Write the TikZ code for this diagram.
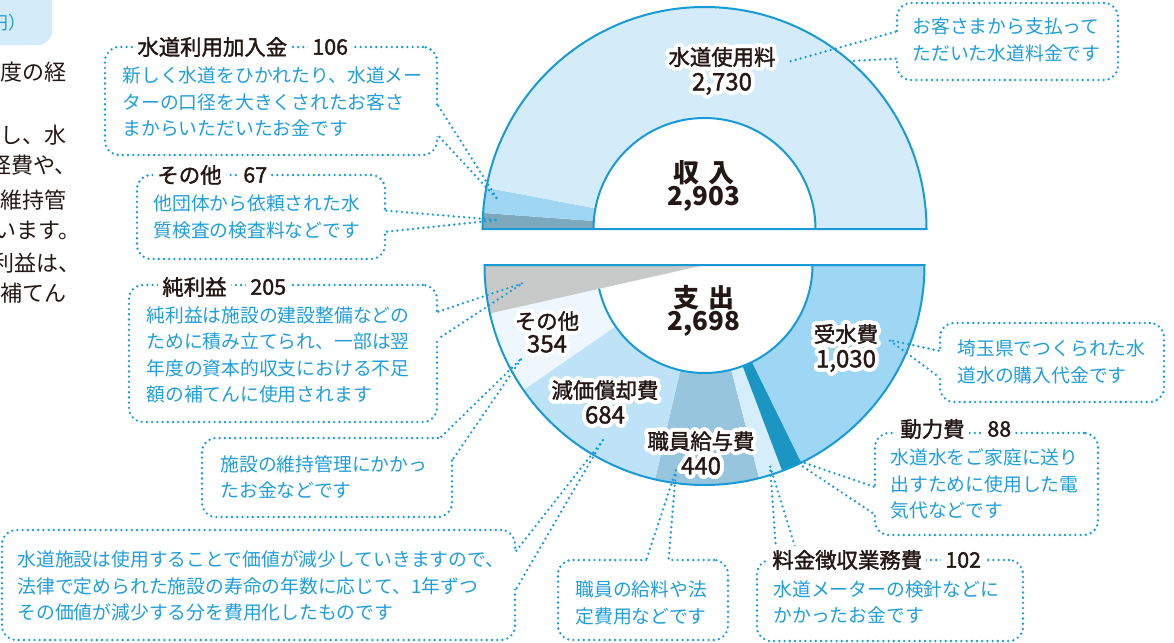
\documentclass[tikz,border=0pt]{standalone}
\usepackage{fontspec}
\setmainfont{Noto Sans CJK JP}
\newfontfamily\jpmed{Noto Sans CJK JP}[FakeBold=1.6]
\usepackage[copies]{contour}
\usepackage{tikz}
\usetikzlibrary{calc,fit}
\definecolor{lineblue}{RGB}{24,154,214}
\definecolor{textblue}{RGB}{32,158,218}
\definecolor{inkcol}{RGB}{35,24,21}
\definecolor{feecol}{RGB}{212,236,249}
\definecolor{joincol}{RGB}{158,214,243}
\definecolor{incother}{RGB}{125,169,191}
\definecolor{profitcol}{RGB}{200,201,201}
\definecolor{expother}{RGB}{238,247,253}
\definecolor{deprcol}{RGB}{190,227,246}
\definecolor{staffcol}{RGB}{151,197,221}
\definecolor{billcol}{RGB}{214,238,251}
\definecolor{powercol}{RGB}{27,150,194}
\definecolor{buycol}{RGB}{158,214,243}
\contourlength{2pt}
\contournumber{24}
\newcommand{\hl}[1]{\contour{white}{#1}}
\newcommand{\num}[1]{\contour{white}{\fontsize{12}{11.6}\selectfont #1}}
\tikzstyle{dotline} = [draw=lineblue, line width=1.3pt, line cap=round, dash pattern=on 0pt off 2.6pt]
\tikzstyle{cbox} = [dotline, rounded corners=7pt, inner sep=0pt]
\tikzstyle{erase} = [draw=white, line width=3pt]
\tikzstyle{ctext} = [anchor=west, align=left, inner sep=0pt, text=textblue, font=\fontsize{9.4}{13.2}\selectfont]
\tikzstyle{chead} = [anchor=west, fill=white, inner sep=2pt, text=inkcol, font=\jpmed\fontsize{10.7}{12}\selectfont]
\tikzstyle{plabel} = [align=center, inner sep=0pt, text=inkcol, font=\jpmed\fontsize{10.7}{11.6}\selectfont]
\tikzstyle{ptotal} = [align=center, inner sep=0pt, text=inkcol, font=\bfseries\fontsize{13}{11.8}\selectfont]
\tikzstyle{pieline} = [draw=lineblue, line width=1pt]
\tikzstyle{frag} = [anchor=east, inner sep=0pt, text=inkcol, font=\fontsize{11}{12}\selectfont]

\begin{document}
\begin{tikzpicture}[x=0.5pt, y=-0.5pt]
  \useasboundingbox (0,0) rectangle (1174,643);
  \clip (0,0) rectangle (1174,643);

  % page fragments at the left edge
  \fill[feecol, rounded corners=7pt] (-30,-30) rectangle (52,45);
  \node[frag, text=textblue, font=\fontsize{9}{10}\selectfont] (unit) at (27,23) {円）};
  \node[frag] (p1) at (67,72) {度の経};
  \node[frag] (p2) at (67,135) {し、水};
  \node[frag] (p3) at (77,165) {経費や、};
  \node[frag] (p4) at (67,200) {維持管};
  \node[frag] (p5) at (81,230) {います。};
  \node[frag] (p6) at (81,263) {利益は、};
  \node[frag] (p7) at (67,293) {補てん};

  % income half
  \coordinate (inc) at (704.5,229);
  \foreach \a/\b/\col in {180/184.154/incother, 184.154/190.727/joincol, 190.727/360/feecol}
    \fill[\col] (inc) -- +(\a:222) arc[start angle=\a, end angle=\b, radius=222] -- cycle;
  \fill[white] (inc) -- +(180:111) arc[start angle=180, end angle=360, radius=111] -- cycle;
  \draw[pieline] (inc) ++(180:222) arc[start angle=180, end angle=360, radius=222] -- cycle;
  \draw[pieline] (inc) ++(180:111) arc[start angle=180, end angle=360, radius=111];

  % expense half
  \coordinate (exp) at (704.5,265);
  \foreach \a/\b/\col in {145.339/167.289/expother, 102.928/145.339/deprcol, 75.646/102.928/staffcol,
                          69.322/75.646/billcol, 63.866/69.322/powercol, 0/63.866/buycol}
    \fill[\col] (exp) -- +(\a:220) arc[start angle=\a, end angle=\b, radius=220] -- cycle;
  \fill[white] (exp) -- +(0:108) arc[start angle=0, end angle=180, radius=108] -- cycle;
  \fill[profitcol] (exp) -- +(167.289:220) arc[start angle=167.289, end angle=180, radius=220] -- cycle;
  \draw[pieline] (exp) ++(0:220) arc[start angle=0, end angle=180, radius=220] -- cycle;
  \draw[pieline] (exp) ++(0:108) arc[start angle=0, end angle=167.3, radius=108];

  % callout: water charges
  \node[cbox, fit={(897,3) (1118,80)}] (feebox) {};
  \coordinate (feeA) at ($(feebox.north west)+(0,30)$);
  \coordinate (feeB) at ($(feebox.north west)+(0,57)$);
  \coordinate (feetip) at (788,62);
  \coordinate (feeend) at (850,61);
  \draw[erase] (feeA) -- (feeB);
  \draw[dotline] (feeA) -- (feetip);
  \draw[dotline] (feeB) -- (feeend);
  \node[ctext] (feetext) at (912,40) {お客さまから支払って\\ただいた水道料金です};

  % callout: connection fee
  \node[cbox, fit={(105,47) (437,155)}] (joinbox) {};
  \coordinate (joinA) at ($(joinbox.north east)+(0,60)$);
  \coordinate (joinB) at ($(joinbox.north east)+(0,90)$);
  \coordinate (jointip) at (498,200);
  \draw[erase] (joinA) -- (joinB);
  \draw[dotline] (joinA) -- (jointip) -- (joinB);
  \node[chead] (joinname) at (133,47) {水道利用加入金};
  \node[chead] (joinval) at (308,47) {106};
  \node[ctext] (jointext) at (122,102) {新しく水道をひかれたり、水道メー\\ターの口径を大きくされたお客さ\\まからいただいたお金です};

  % callout: other income
  \node[cbox, fit={(137,175) (385,259)}] (incobox) {};
  \coordinate (incoA) at ($(incobox.north east)+(0,37)$);
  \coordinate (incoB) at ($(incobox.north east)+(0,58)$);
  \coordinate (incotip) at (498,220);
  \draw[erase] (incoA) -- (incoB);
  \draw[dotline] (incoA) -- (incotip) -- (incoB);
  \node[chead] (inconame) at (153,175) {その他};
  \node[chead] (incoval) at (239,175) {67};
  \node[ctext] (incotext) at (153,217) {他団体から依頼された水\\質検査の検査料などです};

  % callout: net profit
  \node[cbox, fit={(129,285) (437,422)}] (profbox) {};
  \coordinate (profA) at ($(profbox.north east)+(0,28)$);
  \coordinate (profB) at ($(profbox.north east)+(0,55)$);
  \coordinate (proftip) at (523,283);
  \draw[erase] (profA) -- (profB);
  \draw[dotline] (profA) -- (proftip) -- (profB);
  \node[chead] (profname) at (158,287) {純利益};
  \node[chead] (profval) at (246,287) {205};
  \node[ctext] (proftext) at (146,355) {純利益は施設の建設整備などの\\ために積み立てられ、一部は翌\\年度の資本的収支における不足\\額の補てんに使用されます};

  % callout: other expenses
  \node[cbox, fit={(202,438) (452,517)}] (expobox) {};
  \coordinate (expoA) at ($(expobox.north east)+(-12,0)$);
  \coordinate (expoB) at ($(expobox.north east)+(0,22)$);
  \coordinate (expotip) at (522,358);
  \draw[erase, rounded corners=7pt] (expoA) -| (expoB);
  \draw[dotline] (expoA) -- (expotip) -- (expoB);
  \node[ctext] (expotext) at (220,477) {施設の維持管理にかかっ\\たお金などです};

  % callout: depreciation
  \node[cbox, fit={(2,530) (515,640)}] (deprbox) {};
  \coordinate (deprA) at ($(deprbox.north east)+(0,22)$);
  \coordinate (deprB) at ($(deprbox.north east)+(0,60)$);
  \coordinate (deprtip) at (603,440);
  \draw[erase] (deprA) -- (deprB);
  \draw[dotline] (deprA) -- (deprtip) -- (deprB);
  \node[ctext] (deprtext) at (17,586) {水道施設は使用することで価値が減少していきますので、\\法律で定められた施設の寿命の年数に応じて、1年ずつ\\その価値が減少する分を費用化したものです};

  % callout: staff
  \node[cbox, fit={(558,560) (728,640)}] (staffbox) {};
  \coordinate (staffA) at ($(staffbox.north west)+(90,0)$);
  \coordinate (staffB) at ($(staffbox.north west)+(112,0)$);
  \coordinate (stafftip) at (676,470);
  \draw[erase] (staffA) -- (staffB);
  \draw[dotline] (staffA) -- (stafftip) -- (staffB);
  \node[ctext] (stafftext) at (575,603) {職員の給料や法\\定費用などです};

  % callout: bill collection
  \node[cbox, fit={(757,560) (1023,641)}] (billbox) {};
  \coordinate (billA) at ($(billbox.north west)+(21,0)$);
  \coordinate (billB) at ($(billbox.north west)+(43,0)$);
  \coordinate (billtip) at (770,466);
  \draw[dotline] (billA) -- (billtip) -- (billB);
  \node[chead] (billname) at (768,560) {料金徴収業務費};
  \node[chead] (billval) at (941,560) {102};
  \node[ctext] (billtext) at (773,602) {水道メーターの検針などに\\かかったお金です};

  % callout: power
  \node[cbox, fit={(875,433) (1098,535)}] (powbox) {};
  \coordinate (powA) at ($(powbox.north west)+(0,55)$);
  \coordinate (powB) at ($(powbox.north west)+(0,82)$);
  \coordinate (powtip) at (790,458);
  \draw[erase] (powA) -- (powB);
  \draw[dotline] (powA) -- (powtip) -- (powB);
  \node[chead] (powname) at (896,429) {動力費};
  \node[chead] (powval) at (983,429) {88};
  \node[ctext] (powtext) at (890,484) {水道水をご家庭に送り\\出すために使用した電\\気代などです};

  % callout: purchased water
  \node[cbox, fit={(940,323) (1164,402)}] (buybox) {};
  \coordinate (buyA) at ($(buybox.north west)+(0,29)$);
  \coordinate (buyB) at ($(buybox.north west)+(0,55)$);
  \coordinate (buytip) at (889,340);
  \draw[erase] (buyA) -- (buyB);
  \draw[dotline] (buyA) -- (buytip) -- (buyB);
  \node[ctext] (buytext) at (957,362) {埼玉県でつくられた水\\道水の購入代金です};

  % labels on the pie
  \node[plabel] (feelbl) at (722,73) {\hl{水道使用料}\\\num{2,730}};
  \node[ptotal] (inctotal) at (704,186) {収\hspace{0.35em}入\\2,903};
  \node[ptotal] (exptotal) at (704,311) {支\hspace{0.35em}出\\2,698};
  \node[plabel] (buylbl) at (846,350) {\hl{受水費}\\\num{1,030}};
  \node[plabel] (expolbl) at (547,334) {\hl{その他}\\\num{354}};
  \node[plabel] (deprlbl) at (605,404) {\hl{減価償却費}\\\num{684}};
  \node[plabel] (stafflbl) at (701,455) {\hl{職員給与費}\\\num{440}};
\end{tikzpicture}
\end{document}
